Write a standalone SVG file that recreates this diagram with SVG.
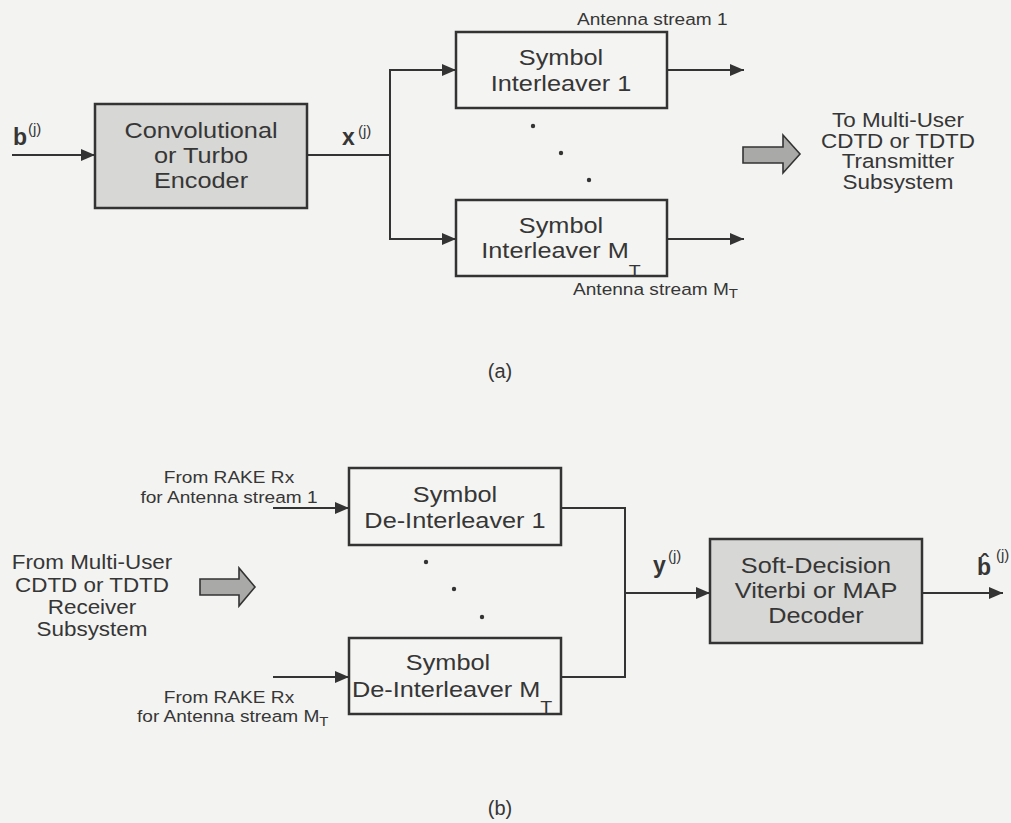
<svg xmlns="http://www.w3.org/2000/svg" width="1011" height="823" viewBox="0 0 1011 823">
<defs>
<style>
text{font-family:"Liberation Sans",Arial,sans-serif;fill:#363636}
.box{fill:#f4f4f2;stroke:#333;stroke-width:2.5}
.gbox{fill:#d7d7d5;stroke:#333;stroke-width:2.5}
.bt{font-size:22px;text-anchor:middle}
.bts{font-size:22px;text-anchor:start}
.st{font-size:19.5px;text-anchor:middle}
.sm{font-size:16.6px}
.smc{font-size:16.6px;text-anchor:middle}
.subb{font-size:17px}
.subs{font-size:13px}
.var{font-size:23px;font-weight:bold}
.sup{font-size:15px}
.ln{fill:none;stroke:#333;stroke-width:2}
.arr{marker-end:url(#ah)}
.big{fill:#a9a9a7;stroke:#333;stroke-width:1.6}
.dot{fill:#333}
</style>
<marker id="ah" viewBox="0 0 14 12" refX="14" refY="6" markerWidth="14" markerHeight="12" markerUnits="userSpaceOnUse" orient="auto">
<path d="M0,0 L14,6 L0,12 Z" fill="#333"/>
</marker>
</defs>
<rect x="0" y="0" width="1011" height="823" fill="#f3f3f1"/>

<g id="connectors">
<line class="ln arr" x1="12" y1="155" x2="95" y2="155"/>
<polyline class="ln" points="307,155 390,155"/>
<line class="ln" x1="390" y1="70" x2="390" y2="239"/>
<line class="ln arr" x1="389" y1="70" x2="456" y2="70"/>
<line class="ln arr" x1="389" y1="239" x2="456" y2="239"/>
<line class="ln arr" x1="667" y1="70" x2="744" y2="70"/>
<line class="ln arr" x1="667" y1="239" x2="744" y2="239"/>
<line class="ln arr" x1="273" y1="508" x2="349" y2="508"/>
<line class="ln arr" x1="273" y1="677" x2="349" y2="677"/>
<polyline class="ln" points="561,508 625,508 625,677 561,677"/>
<line class="ln arr" x1="625" y1="593" x2="710" y2="593"/>
<line class="ln arr" x1="922" y1="593" x2="1003" y2="593"/>
</g>

<g id="encoder">
<rect class="gbox" x="95" y="104" width="212" height="104"/>
<text class="bt" transform="translate(201,0) scale(1.15,1)" x="0" y="138">Convolutional</text>
<text class="bt" transform="translate(201,0) scale(1.15,1)" x="0" y="163">or Turbo</text>
<text class="bt" transform="translate(201,0) scale(1.15,1)" x="0" y="188">Encoder</text>
</g>

<g id="label-b">
<text class="var" x="13" y="145">b</text>
<text class="sup" x="28" y="134">(j)</text>
</g>
<g id="label-x">
<text class="var" x="342" y="145">x</text>
<text class="sup" x="358" y="136">(j)</text>
</g>

<g id="interleaver1">
<rect class="box" x="456" y="32" width="211" height="76"/>
<text class="bt" transform="translate(561,0) scale(1.15,1)" x="0" y="65">Symbol</text>
<text class="bt" transform="translate(561,0) scale(1.15,1)" x="0" y="91">Interleaver 1</text>
</g>

<g id="interleaverMT">
<rect class="box" x="456" y="200" width="211" height="76"/>
<text class="bt" transform="translate(561,0) scale(1.15,1)" x="0" y="233">Symbol</text>
<text class="bt" transform="translate(561,0) scale(1.15,1)" x="0" y="258">Interleaver M<tspan class="subb" dy="19">T</tspan></text>
</g>

<g id="antenna-labels">
<text class="sm" transform="translate(577,0) scale(1.15,1)" x="0" y="25">Antenna stream 1</text>
<text class="sm" transform="translate(573,0) scale(1.15,1)" x="0" y="295">Antenna stream M<tspan class="subs" dy="3">T</tspan></text>
</g>

<g id="dots-a">
<circle class="dot" cx="533" cy="126" r="2.2"/>
<circle class="dot" cx="561" cy="153" r="2.2"/>
<circle class="dot" cx="589" cy="180" r="2.2"/>
</g>

<g id="to-tx">
<path class="big" d="M743,147 L783,147 L783,135 L800,154 L783,173 L783,163 L743,163 Z"/>
<text class="st" transform="translate(898,0) scale(1.15,1)" x="0" y="127">To Multi-User</text>
<text class="st" transform="translate(898,0) scale(1.15,1)" x="0" y="148">CDTD or TDTD</text>
<text class="st" transform="translate(898,0) scale(1.15,1)" x="0" y="168">Transmitter</text>
<text class="st" transform="translate(898,0) scale(1.15,1)" x="0" y="189">Subsystem</text>
</g>

<g id="caption-a">
<text x="500" y="378" font-size="20" text-anchor="middle">(a)</text>
</g>

<g id="from-rx">
<text class="st" transform="translate(92,0) scale(1.15,1)" x="0" y="569">From Multi-User</text>
<text class="st" transform="translate(92,0) scale(1.15,1)" x="0" y="592">CDTD or TDTD</text>
<text class="st" transform="translate(92,0) scale(1.15,1)" x="0" y="614">Receiver</text>
<text class="st" transform="translate(92,0) scale(1.15,1)" x="0" y="636">Subsystem</text>
<path class="big" d="M200,579 L239,579 L239,568 L255,587 L239,606 L239,595 L200,595 Z"/>
</g>

<g id="rake-labels">
<text class="smc" transform="translate(229,0) scale(1.15,1)" x="0" y="483">From RAKE Rx</text>
<text class="smc" transform="translate(229,0) scale(1.15,1)" x="0" y="503">for Antenna stream 1</text>
<text class="smc" transform="translate(229,0) scale(1.15,1)" x="0" y="703">From RAKE Rx</text>
<text class="sm" transform="translate(137,0) scale(1.15,1)" x="0" y="722">for Antenna stream M<tspan class="subs" dy="4">T</tspan></text>
</g>

<g id="deinterleaver1">
<rect class="box" x="349" y="468" width="212" height="77"/>
<text class="bt" transform="translate(455,0) scale(1.15,1)" x="0" y="502">Symbol</text>
<text class="bt" transform="translate(455,0) scale(1.15,1)" x="0" y="528">De-Interleaver 1</text>
</g>

<g id="deinterleaverMT">
<rect class="box" x="349" y="638" width="212" height="76"/>
<text class="bt" transform="translate(448,0) scale(1.15,1)" x="0" y="670">Symbol</text>
<text class="bts" transform="translate(352,0) scale(1.15,1)" x="0" y="697">De-Interleaver M<tspan class="subb" dy="16">T</tspan></text>
</g>

<g id="dots-b">
<circle class="dot" cx="426" cy="562" r="2.2"/>
<circle class="dot" cx="454" cy="589" r="2.2"/>
<circle class="dot" cx="482" cy="617" r="2.2"/>
</g>

<g id="label-y">
<text class="var" x="653" y="573">y</text>
<text class="sup" x="668" y="561">(j)</text>
</g>

<g id="decoder">
<rect class="gbox" x="710" y="539" width="212" height="104"/>
<text class="bt" transform="translate(816,0) scale(1.15,1)" x="0" y="573">Soft-Decision</text>
<text class="bt" transform="translate(816,0) scale(1.15,1)" x="0" y="598">Viterbi or MAP</text>
<text class="bt" transform="translate(816,0) scale(1.15,1)" x="0" y="623">Decoder</text>
</g>

<g id="label-bhat">
<text class="var" x="977" y="575">b̂</text>
<text class="sup" x="996" y="560">(j)</text>
</g>

<g id="caption-b">
<text x="500" y="815" font-size="20" text-anchor="middle">(b)</text>
</g>
</svg>
